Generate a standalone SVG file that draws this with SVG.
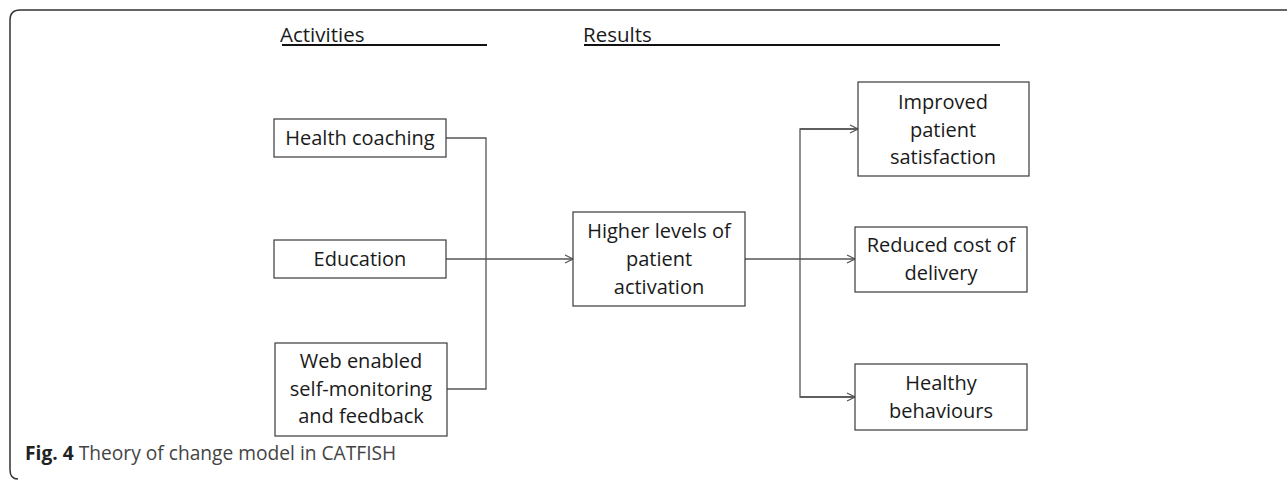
<svg xmlns="http://www.w3.org/2000/svg" width="1287" height="480" viewBox="0 0 1287 480">
<defs>
<style>
.box{fill:#fff;stroke:#3a3a3a;stroke-width:1.2}
.t{font-family:"Open Sans","Liberation Sans",sans-serif;font-size:20px;fill:#1a1a1a;text-anchor:middle}
.h{font-family:"Open Sans","Liberation Sans",sans-serif;font-size:20.5px;fill:#1a1a1a}
.c{fill:none;stroke:#555;stroke-width:1.3}
.ul{stroke:#111;stroke-width:2}
</style>
<marker id="arr" viewBox="0 0 10 10" refX="9" refY="5" markerWidth="10" markerHeight="10" markerUnits="userSpaceOnUse" orient="auto">
<path d="M1,1 L9,5 L1,9" fill="none" stroke="#555" stroke-width="1.2"/>
</marker>
</defs>
<rect width="1287" height="480" fill="#fff"/>
<path d="M1287,10 H20 Q10,10 10,20 V470 Q10,479 18,479" fill="none" stroke="#333" stroke-width="1.5"/>
<g id="headers">
<text class="h" x="280" y="42">Activities</text>
<line class="ul" x1="282" y1="45" x2="487" y2="45"/>
<text class="h" x="583" y="42">Results</text>
<line class="ul" x1="584" y1="45" x2="1000" y2="45"/>
</g>
<g id="connectors">
<polyline class="c" points="446,138 486,138 486,389 447,389"/>
<line class="c" x1="446" y1="259" x2="573" y2="259" marker-end="url(#arr)"/>
<line class="c" x1="745" y1="259" x2="855" y2="259" marker-end="url(#arr)"/>
<polyline class="c" points="858,129 800,129 800,397 855,397"/>
<line class="c" x1="800" y1="129" x2="858" y2="129" marker-end="url(#arr)"/>
<line class="c" x1="800" y1="397" x2="855" y2="397" marker-end="url(#arr)"/>
</g>
<g id="health-coaching">
<rect class="box" x="274" y="119" width="172" height="38"/>
<text class="t" x="360" y="145">Health coaching</text>
</g>
<g id="education">
<rect class="box" x="274" y="240" width="172" height="38"/>
<text class="t" x="360" y="266">Education</text>
</g>
<g id="web-enabled">
<rect class="box" x="275" y="343" width="172" height="93"/>
<text class="t" x="361" y="368">Web enabled</text>
<text class="t" x="361" y="396">self-monitoring</text>
<text class="t" x="361" y="423">and feedback</text>
</g>
<g id="higher-levels">
<rect class="box" x="573" y="212" width="172" height="94"/>
<text class="t" x="659" y="238">Higher levels of</text>
<text class="t" x="659" y="266">patient</text>
<text class="t" x="659" y="294">activation</text>
</g>
<g id="improved">
<rect class="box" x="858" y="82" width="171" height="94"/>
<text class="t" x="943" y="109">Improved</text>
<text class="t" x="943" y="137">patient</text>
<text class="t" x="943" y="164">satisfaction</text>
</g>
<g id="reduced">
<rect class="box" x="855" y="227" width="172" height="65"/>
<text class="t" x="941" y="252">Reduced cost of</text>
<text class="t" x="941" y="280">delivery</text>
</g>
<g id="healthy">
<rect class="box" x="855" y="364" width="172" height="66"/>
<text class="t" x="941" y="390">Healthy</text>
<text class="t" x="941" y="418">behaviours</text>
</g>
<text x="25" y="460" font-family="'Open Sans','Liberation Sans',sans-serif" font-size="19.2" fill="#444"><tspan font-weight="bold" fill="#222">Fig. 4</tspan> Theory of change model in CATFISH</text>
</svg>
